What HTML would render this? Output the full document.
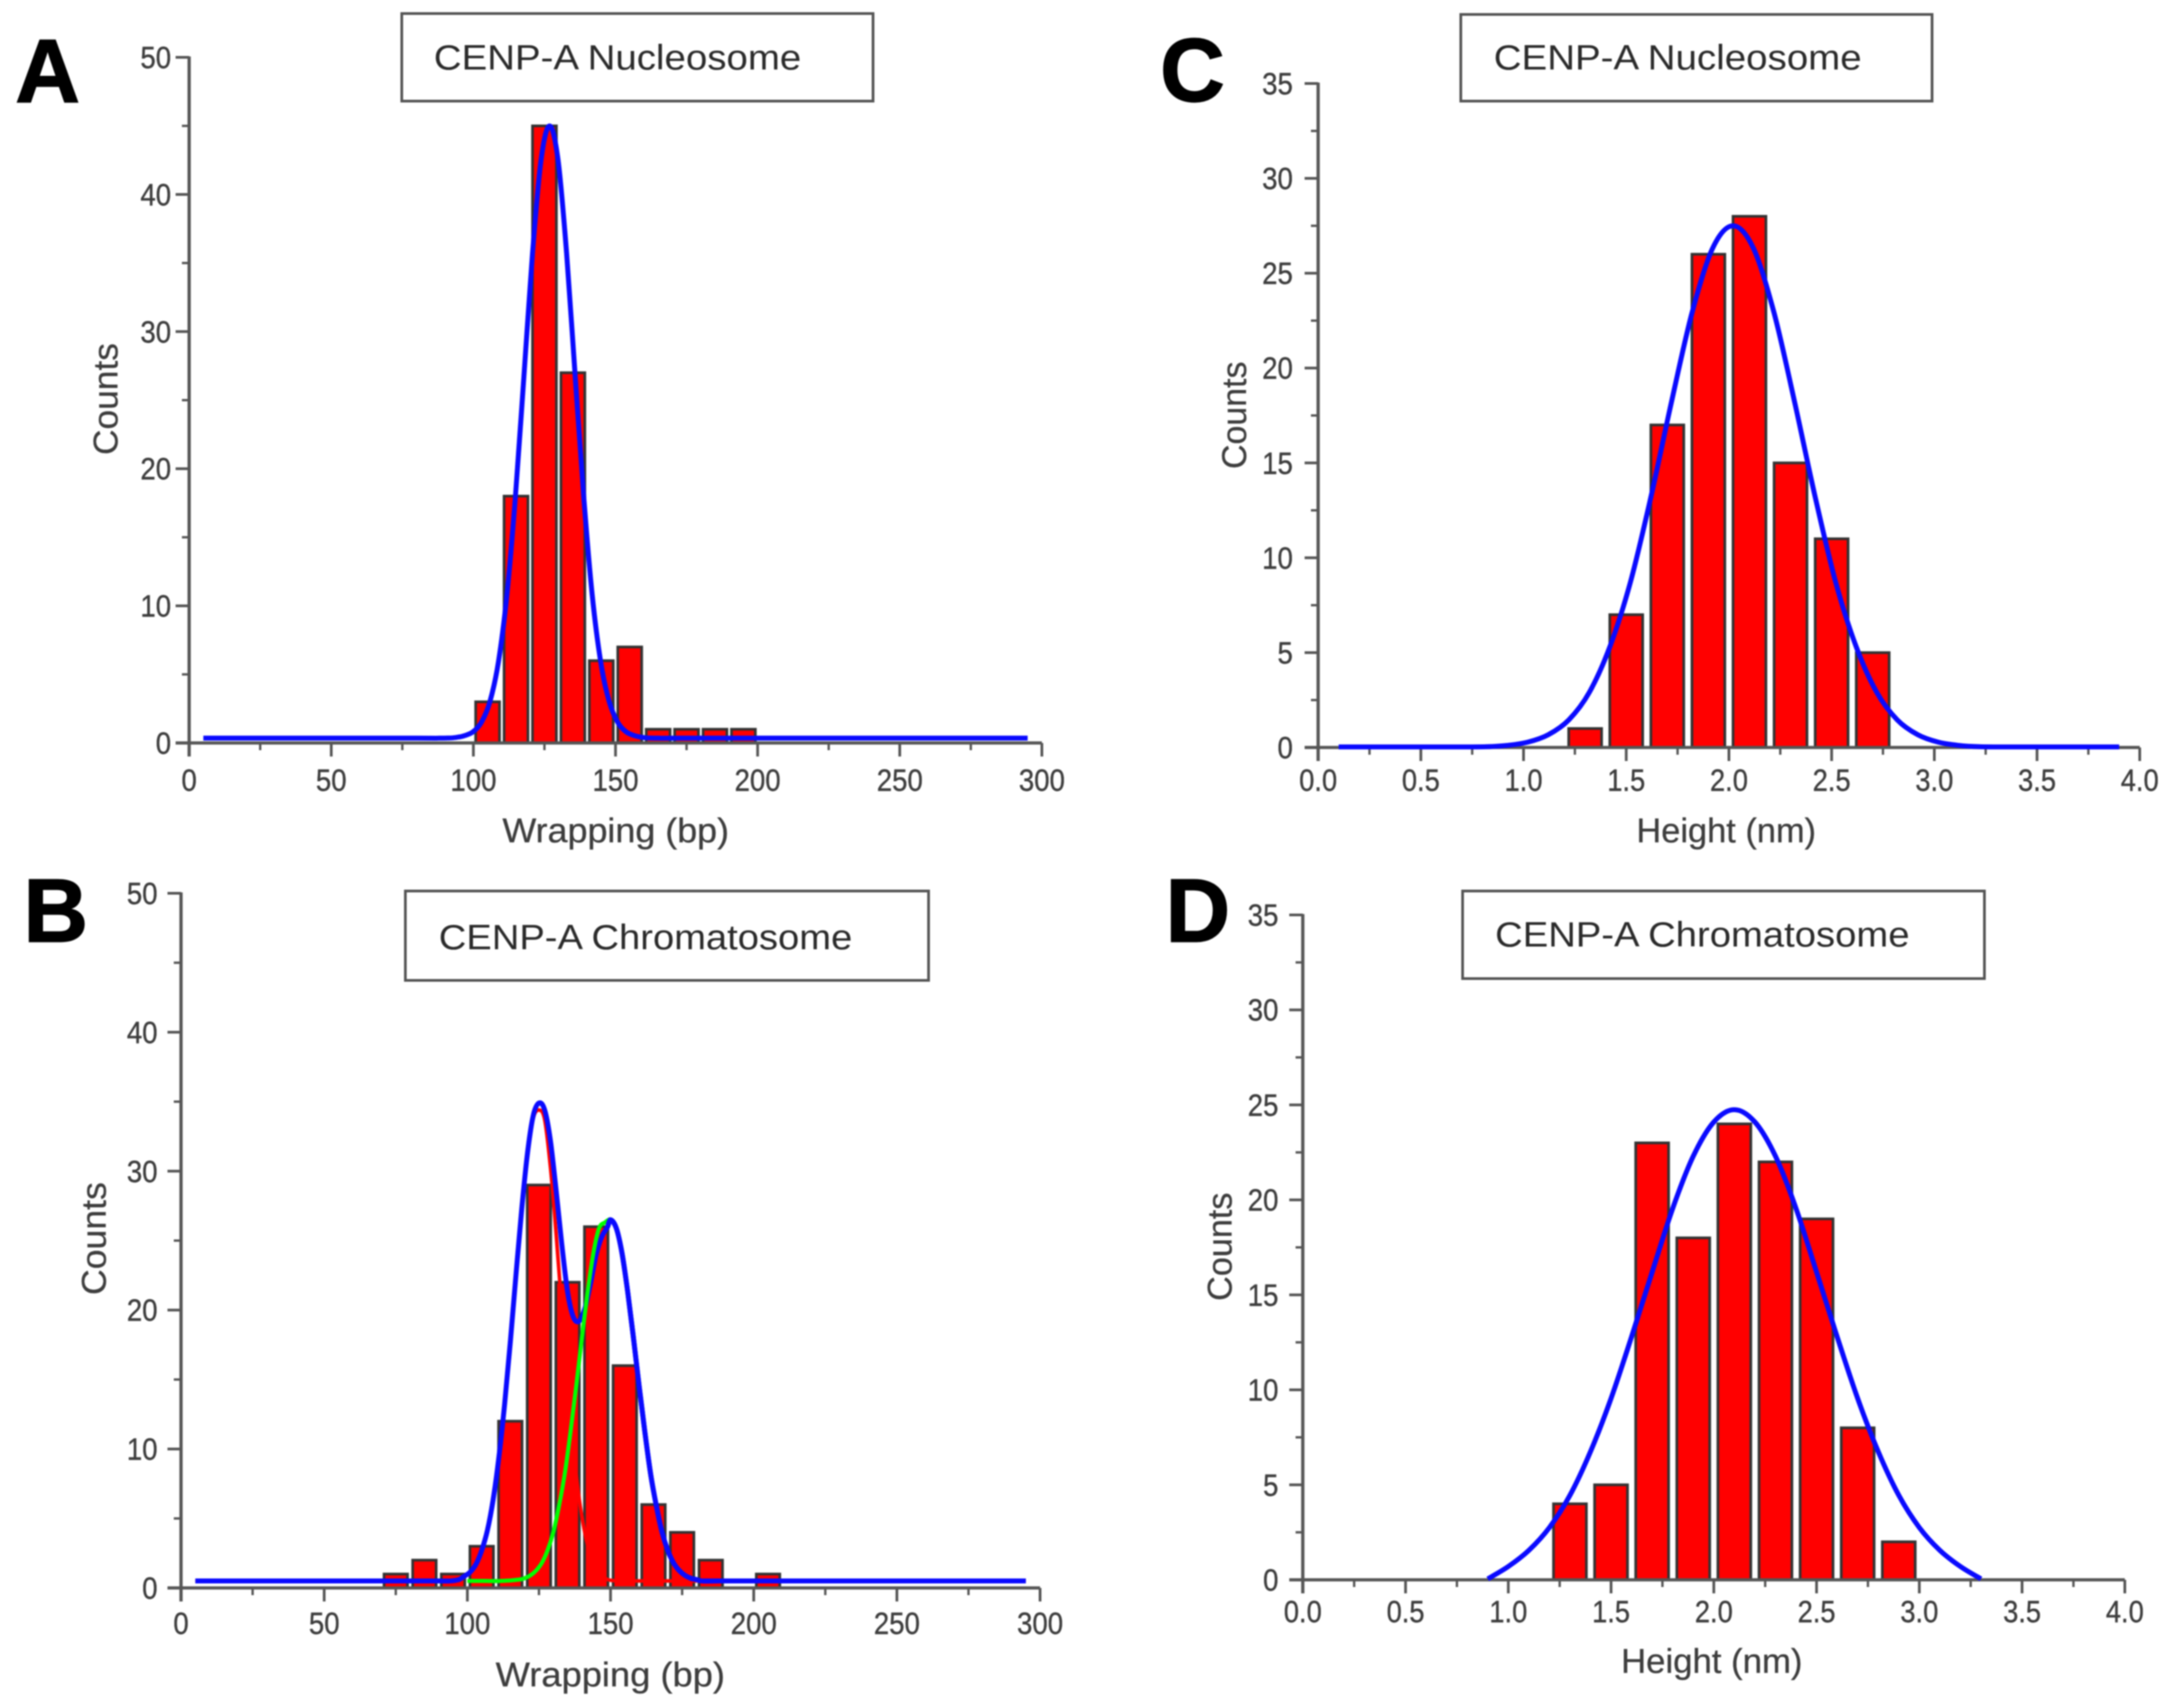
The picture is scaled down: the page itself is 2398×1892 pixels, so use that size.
<!DOCTYPE html>
<html lang="en">
<head>
<meta charset="utf-8">
<title>CENP-A wrapping and height histograms</title>
<style>
html,body{margin:0;padding:0;background:#fff;}
body{width:2398px;height:1892px;overflow:hidden;}
#figure{display:block;filter:blur(0.9px);font-family:"Liberation Sans",sans-serif;}
</style>
</head>
<body>
<svg id="figure" xmlns="http://www.w3.org/2000/svg" width="2398" height="1892" viewBox="0 0 2398 1892"></svg>
<script>
// ---------- Panel A data ----------
const aBins = [105,115,125,135,145,155,165,175,185,195];
const aCounts = [3,18,45,27,6,7,1,1,1,1];
const aFitX = [5,50,80,88,91,93.8,96.8,99.8,102.8,105.8,108.8,111.8,114.8,117.8,120.8,123.8,126.8,129.8,132.8,135.8,138.8,141.8,144.8,147.8,150.8,153.8,156.8,159.8,162.3,165,173,203,295];
const aFitY = [0.35,0.35,0.35,0.35,0.36,0.4,0.53,0.8,1.5,3,5.9,10.8,18,26.8,35.7,42.5,45,42.5,35.7,26.8,18,10.8,5.9,3,1.5,0.8,0.53,0.4,0.36,0.35,0.35,0.35,0.35];
const aXTicks = ['0','50','100','150','200','250','300'];
const aYTicks = ['0','10','20','30','40','50'];

// ---------- Panel B data ----------
const bBins = [75,85,95,105,115,125,135,145,155,165,175,185,205];
const bCounts = [1,2,1,3,12,29,22,26,16,6,4,2,1];
const bFitX = [5,50,80,90,94,97,99,101,103,105,107,109,111,113,115,117,119,121,123,125,127,129,131,133,135,137,139,141,143,145,147,149,150,152,154,156,158,160,162,164,166,168,170,172,174,176,178,180,182,188,210,295];
const bFitY = [0.5,0.5,0.5,0.5,0.5,0.6,0.85,1.15,1.7,2.7,4.15,6.35,9.4,13.2,17.7,22.6,27.3,31.3,34,34.9,34.4,32.2,28.6,24.7,21.3,19.5,19.2,20.1,21.9,24,25.3,26,26.5,25.9,24.1,21.3,18,14.5,11.2,8.2,5.9,4,2.7,1.8,1.25,0.9,0.7,0.6,0.5,0.5,0.5,0.5];
const bPeak1X = [5,50,80,90,94,97,99,101,103,105,107,109,111,113,115,117,119,121,123,125,127,129,131,133,135,137,139,141,143,145,147,149,153,160,180,295];
const bPeak1Y = [0.5,0.5,0.5,0.5,0.5,0.6,0.85,1.15,1.7,2.7,4.15,6.35,9.4,13.2,17.7,22.6,27.3,31.3,33.8,34.4,33.7,30.3,25.5,20,14.6,10,6.5,4,2.4,1.5,0.96,0.6,0.5,0.5,0.5,0.5];
const bPeak2X = [100,106,112,118,120,122,124,126,128,130,132,134,136,138,140,142,144,146,148,150,152,154,156,158,160,162,164,166,168,170,172,174,176,178,180];
const bPeak2Y = [0.5,0.5,0.5,0.6,0.7,0.9,1.25,1.8,2.7,4,5.9,8.2,11.2,14.5,18,21.3,24.1,25.9,26.3,26.5,25.9,24.1,21.3,18,14.5,11.2,8.2,5.9,4,2.7,1.8,1.25,0.9,0.7,0.6];
const bXTicks = ['0','50','100','150','200','250','300'];
const bYTicks = ['0','10','20','30','40','50'];

// ---------- Panel C data ----------
const cBins = [1.3,1.5,1.7,1.9,2.1,2.3,2.5,2.7];
const cCounts = [1,7,17,26,28,15,11,5];
const cFitX = [0.1,0.4,0.62,0.72,0.82,0.92,1.02,1.12,1.22,1.32,1.42,1.52,1.62,1.72,1.82,1.92,2.02,2.12,2.22,2.32,2.42,2.52,2.62,2.72,2.82,2.92,3.02,3.12,3.22,3.32,3.42,3.64,3.9];
const cFitY = [0.03,0.03,0.03,0.03,0.04,0.11,0.28,0.67,1.45,2.9,5.3,8.7,13.2,18.2,22.9,26.3,27.5,26.3,22.9,18.2,13.2,8.7,5.3,2.9,1.45,0.67,0.28,0.11,0.04,0.03,0.03,0.03,0.03];
const cXTicks = ['0.0','0.5','1.0','1.5','2.0','2.5','3.0','3.5','4.0'];
const cYTicks = ['0','5','10','15','20','25','30','35'];

// ---------- Panel D data ----------
const dBins = [1.3,1.5,1.7,1.9,2.1,2.3,2.5,2.7,2.9];
const dCounts = [4,5,23,18,24,22,19,8,2];
const dFitX = [0.9,1,1.1,1.2,1.3,1.4,1.5,1.6,1.7,1.8,1.9,2,2.1,2.2,2.3,2.4,2.5,2.6,2.7,2.8,2.9,3,3.1,3.2,3.3];
const dFitY = [0.05,0.7,1.55,2.75,4.45,6.75,9.55,12.8,16.2,19.55,22.3,24.1,24.75,24.1,22.3,19.55,16.2,12.8,9.55,6.75,4.45,2.75,1.55,0.7,0.05];
const dXTicks = ['0.0','0.5','1.0','1.5','2.0','2.5','3.0','3.5','4.0'];
const dYTicks = ['0','5','10','15','20','25','30','35'];

const NS = 'http://www.w3.org/2000/svg';
const root = document.getElementById('figure');

function make(parent, tag, attrs, text) {
  const el = document.createElementNS(NS, tag);
  for (const k in attrs) el.setAttribute(k, attrs[k]);
  if (text !== undefined) el.textContent = text;
  parent.appendChild(el);
  return el;
}

function labelLength(s) {
  let w = 0;
  for (const ch of s) w += (ch === '.') ? 8 : 17;
  return w;
}

function smoothPath(xs, ys, sx, sy) {
  const p = xs.map((x, i) => [sx(x), sy(ys[i])]);
  let d = 'M' + p[0][0].toFixed(2) + ' ' + p[0][1].toFixed(2);
  for (let i = 0; i < p.length - 1; i++) {
    const a = p[Math.max(0, i - 1)], b = p[i], c = p[i + 1], e = p[Math.min(p.length - 1, i + 2)];
    const c1x = b[0] + (c[0] - a[0]) / 6, c1y = b[1] + (c[1] - a[1]) / 6;
    const c2x = c[0] - (e[0] - b[0]) / 6, c2y = c[1] - (e[1] - b[1]) / 6;
    d += 'C' + c1x.toFixed(2) + ' ' + c1y.toFixed(2) + ' ' + c2x.toFixed(2) + ' ' + c2y.toFixed(2) + ' ' + c[0].toFixed(2) + ' ' + c[1].toFixed(2);
  }
  return d;
}

function drawPanel(cfg) {
  const g = make(root, 'g', {});
  
  

  const xMax = parseFloat(cfg.xTicks[cfg.xTicks.length - 1]);
  const yMax = parseFloat(cfg.yTicks[cfg.yTicks.length - 1]);
  const sx = v => cfg.left + v / xMax * (cfg.right - cfg.left);
  const sy = v => cfg.base - v / yMax * (cfg.base - cfg.top);
  const axisColor = '#555', textColor = '#3d3d3d';

  // panel letter
  const letter = make(g, 'text', {x: cfg.letterX, y: cfg.letterY, 'font-size': 99, 'font-weight': 700, fill: '#000', stroke: '#000', 'stroke-width': 1.5}, cfg.id.toUpperCase());
  
  

  // title box
  const box = make(g, 'rect', {x: cfg.box[0], y: cfg.box[1], width: cfg.box[2], height: cfg.box[3], fill: '#fff', stroke: '#555', 'stroke-width': 3});
  
  
  const title = make(g, 'text', {x: cfg.titleX, y: cfg.titleY, 'font-size': 39, fill: '#2a2a2a', textLength: cfg.titleW, lengthAdjust: 'spacingAndGlyphs'}, cfg.title);
  
  

  // bars
  cfg.bins.forEach((b, i) => {
    const top = sy(cfg.counts[i]);
    const bar = make(g, 'rect', {x: sx(b - cfg.barW / 2), y: top, width: sx(b + cfg.barW / 2) - sx(b - cfg.barW / 2), height: cfg.base - top, fill: '#ff0000', stroke: '#333', 'stroke-width': 3});
    
    
  });

  // axes
  const xAxis = make(g, 'line', {x1: cfg.left - 15, x2: cfg.right, y1: cfg.base, y2: cfg.base, stroke: axisColor, 'stroke-width': 3.6});
  
  
  const yAxis = make(g, 'line', {x1: cfg.left, x2: cfg.left, y1: cfg.base + 15, y2: cfg.top - 1, stroke: axisColor, 'stroke-width': 3.6});
  
  

  cfg.xTicks.forEach((t, i) => {
    const v = parseFloat(t);
    const tick = make(g, 'line', {x1: sx(v), x2: sx(v), y1: cfg.base, y2: cfg.base + 15, stroke: axisColor, 'stroke-width': 3});
    
    
    const label = make(g, 'text', {x: sx(v), y: cfg.xLabelY, 'font-size': 34, fill: textColor, stroke: textColor, 'stroke-width': 0.4, 'text-anchor': 'middle', textLength: labelLength(t), lengthAdjust: 'spacingAndGlyphs'}, t);
    
    
    if (i < cfg.xTicks.length - 1) {
      const m = (v + parseFloat(cfg.xTicks[i + 1])) / 2;
      const minor = make(g, 'line', {x1: sx(m), x2: sx(m), y1: cfg.base, y2: cfg.base + 8, stroke: axisColor, 'stroke-width': 2.6});
      
      
    }
  });

  cfg.yTicks.forEach((t, i) => {
    const v = parseFloat(t);
    const tick = make(g, 'line', {x1: cfg.left - 15, x2: cfg.left, y1: sy(v), y2: sy(v), stroke: axisColor, 'stroke-width': 3});
    
    
    const label = make(g, 'text', {x: cfg.left - cfg.labelGap, y: sy(v) + 12, 'font-size': 34, fill: textColor, stroke: textColor, 'stroke-width': 0.4, 'text-anchor': 'end', textLength: labelLength(t), lengthAdjust: 'spacingAndGlyphs'}, t);
    
    
    if (i < cfg.yTicks.length - 1) {
      const m = (v + parseFloat(cfg.yTicks[i + 1])) / 2;
      const minor = make(g, 'line', {x1: cfg.left - 8, x2: cfg.left, y1: sy(m), y2: sy(m), stroke: axisColor, 'stroke-width': 2.6});
      
      
    }
  });

  // axis titles
  const xTitle = make(g, 'text', {x: cfg.xTitleX, y: cfg.xTitleY, 'font-size': 38, fill: textColor, stroke: textColor, 'stroke-width': 0.3, 'text-anchor': 'middle', textLength: cfg.xTitleW, lengthAdjust: 'spacingAndGlyphs'}, cfg.xTitle);
  
  
  const yTitle = make(g, 'text', {transform: 'translate(' + cfg.yTitleX + ' ' + cfg.yTitleY + ') rotate(-90)', 'font-size': 38, fill: textColor, stroke: textColor, 'stroke-width': 0.3, 'text-anchor': 'middle', textLength: cfg.yTitleW, lengthAdjust: 'spacingAndGlyphs'}, 'Counts');
  
  

  // fit curves
  if (cfg.peak1X) {
    const red = make(g, 'path', {d: smoothPath(cfg.peak1X, cfg.peak1Y, sx, sy), fill: 'none', stroke: '#ff0000', 'stroke-width': 4});
    
    
  }
  const blue = make(g, 'path', {d: smoothPath(cfg.fitX, cfg.fitY, sx, sy), fill: 'none', stroke: '#0a0aff', 'stroke-width': 5.5, 'stroke-linejoin': 'round'});
  
  
  if (cfg.peak2X) {
    const green = make(g, 'path', {d: smoothPath(cfg.peak2X, cfg.peak2Y, sx, sy), fill: 'none', stroke: '#00ff00', 'stroke-width': 4.5});
    
    
    const blueTop = make(g, 'path', {d: smoothPath(cfg.fitX.slice(31), cfg.fitY.slice(31), sx, sy), fill: 'none', stroke: '#0a0aff', 'stroke-width': 5.5});
    
    
  }
}

drawPanel({
  id: 'a', bins: aBins, counts: aCounts, barW: 8.4, fitX: aFitX, fitY: aFitY, xTicks: aXTicks, yTicks: aYTicks,
  left: 209.5, right: 1154, base: 823, top: 63.5, labelGap: 20,
  letterX: 17, letterY: 113, box: [445, 15, 522, 97], title: 'CENP-A Nucleosome', titleX: 480.5, titleY: 77, titleW: 407,
  xLabelY: 876, xTitle: 'Wrapping (bp)', xTitleX: 682, xTitleY: 933, xTitleW: 251, yTitleX: 130, yTitleY: 442, yTitleW: 124
});
drawPanel({
  id: 'b', bins: bBins, counts: bCounts, barW: 8.2, fitX: bFitX, fitY: bFitY,
  peak1X: bPeak1X, peak1Y: bPeak1Y, peak2X: bPeak2X, peak2Y: bPeak2Y, xTicks: bXTicks, yTicks: bYTicks,
  left: 200.5, right: 1152, base: 1759, top: 989.5, labelGap: 26,
  letterX: 26, letterY: 1043, box: [449, 987, 579.5, 99], title: 'CENP-A Chromatosome', titleX: 486, titleY: 1051.5, titleW: 458,
  xLabelY: 1810, xTitle: 'Wrapping (bp)', xTitleX: 676, xTitleY: 1868, xTitleW: 254, yTitleX: 117, yTitleY: 1372, yTitleW: 125
});
drawPanel({
  id: 'c', bins: cBins, counts: cCounts, barW: 0.16, fitX: cFitX, fitY: cFitY, xTicks: cXTicks, yTicks: cYTicks,
  left: 1460, right: 2370, base: 828, top: 92.5, labelGap: 28,
  letterX: 1285, letterY: 112, box: [1618, 16, 522, 96], title: 'CENP-A Nucleosome', titleX: 1654.5, titleY: 77, titleW: 407.5,
  xLabelY: 876, xTitle: 'Height (nm)', xTitleX: 1912, xTitleY: 933, xTitleW: 199, yTitleX: 1380, yTitleY: 460, yTitleW: 119
});
drawPanel({
  id: 'd', bins: dBins, counts: dCounts, barW: 0.16, fitX: dFitX, fitY: dFitY, xTicks: dXTicks, yTicks: dYTicks,
  left: 1443, right: 2353.5, base: 1750, top: 1013.5, labelGap: 27,
  letterX: 1291, letterY: 1043, box: [1620, 987, 578, 97], title: 'CENP-A Chromatosome', titleX: 1656, titleY: 1048.5, titleW: 459,
  xLabelY: 1797, xTitle: 'Height (nm)', xTitleX: 1896, xTitleY: 1853, xTitleW: 201, yTitleX: 1364, yTitleY: 1381, yTitleW: 120
});
</script>
</body>
</html>
